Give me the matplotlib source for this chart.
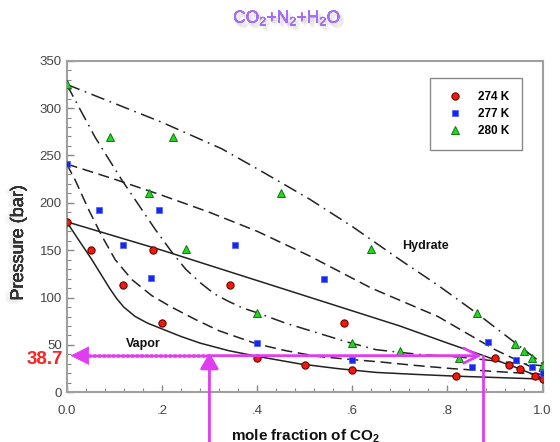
import matplotlib
matplotlib.use("Agg")
import matplotlib.pyplot as plt
import matplotlib.patheffects as pe
from matplotlib.ticker import MultipleLocator, FixedLocator, FixedFormatter

plt.rcParams['font.family'] = ['Liberation Sans', 'DejaVu Sans']
plt.rcParams['mathtext.default'] = 'regular'
plt.rcParams['lines.scale_dashes'] = False

# ---- measured points ----
x274 = [0, 0.052, 0.118, 0.181, 0.2, 0.343, 0.4, 0.5, 0.583, 0.6, 0.819, 0.9, 0.929, 0.952, 0.984, 1.0]
p274 = [180, 150, 113, 150, 73.6, 113, 36, 29, 73.6, 24, 17.5, 36, 29, 24.3, 17.5, 14.4]

x277 = [0, 0.068, 0.118, 0.177, 0.195, 0.353, 0.4, 0.54, 0.6, 0.851, 0.886, 0.945, 0.978, 1.0]
p277 = [241, 192.5, 155.5, 120.4, 192.5, 156, 52.5, 120, 33.8, 26.4, 53, 34, 26.4, 20.5]

x280 = [0, 0.092, 0.172, 0.223, 0.25, 0.4, 0.45, 0.6, 0.639, 0.7, 0.825, 0.863, 0.942, 0.961, 0.977, 1.0]
p280 = [325, 269, 210, 269, 151, 84, 210, 52.5, 151, 43.6, 36.5, 84, 51.4, 43.6, 36, 28.5]

# ---- fitted boundary curves ----
hyd274_x = [0, 0.1, 0.2, 0.3, 0.4, 0.5, 0.6, 0.7, 0.8, 0.88, 0.94, 1.0]
hyd274_p = [180, 165, 150, 134, 118, 102, 86, 70, 52, 38, 27, 15]
vap274_x = [0, 0.025, 0.053, 0.074, 0.09, 0.105, 0.12, 0.144, 0.17, 0.2, 0.24, 0.28, 0.34, 0.4, 0.49, 0.57, 0.65, 0.73, 0.82, 0.91, 1.0]
vap274_p = [180, 161, 140, 123, 110, 99, 90, 80, 73, 67, 59, 52, 44, 38, 30, 25, 21, 19, 17, 15.5, 14]

hyd277_x = [0, 0.1, 0.2, 0.3, 0.4, 0.51, 0.64, 0.78, 0.9, 1.0]
hyd277_p = [241, 225, 208, 190, 170, 144, 110, 80, 45, 21]
vap277_x = [0, 0.018, 0.046, 0.074, 0.102, 0.137, 0.179, 0.22, 0.27, 0.32, 0.4, 0.46, 0.525, 0.59, 0.66, 0.73, 0.81, 0.9, 1.0]
vap277_p = [241, 224, 193, 165, 140, 119, 102, 90, 77, 65, 51, 44, 38, 35, 32, 28.5, 25, 22, 19]

hyd280_x = [0, 0.095, 0.2, 0.326, 0.4, 0.51, 0.6, 0.7, 0.78, 0.86, 0.93, 1.0]
hyd280_p = [325, 306, 285, 257, 236, 204, 175, 140, 113, 84, 57, 30]
vap280_x = [0, 0.06, 0.116, 0.186, 0.221, 0.25, 0.28, 0.31, 0.34, 0.37, 0.4, 0.46, 0.525, 0.59, 0.65, 0.74, 0.83, 0.92, 1.0]
vap280_p = [325, 269, 224, 172, 148, 130, 116, 104, 96, 89, 84, 73, 63, 53, 45, 40, 37, 32, 28]

xticks = [0.0, 0.2, 0.4, 0.6, 0.8, 1.0]
xtick_labels = ['0.0', '.2', '.4', '.6', '.8', '1.0']
yticks = [0, 50, 100, 150, 200, 250, 300, 350]

p_mark = 38.7
x_vap_mark = 0.3
x_hyd_mark = 0.875

fig = plt.figure(figsize=(5.6, 4.42), dpi=100)
ax = fig.add_axes([0.119, 0.1124, 0.85, 0.7503])

lc = '#222222'
ax.plot(hyd274_x, hyd274_p, color=lc, lw=1.1, ls='-')
ax.plot(vap274_x, vap274_p, color=lc, lw=1.1, ls='-')
ax.plot(hyd277_x, hyd277_p, color=lc, lw=1.1, ls=(0, (8, 4)))
ax.plot(vap277_x, vap277_p, color=lc, lw=1.1, ls=(0, (8, 4)))
ax.plot(hyd280_x, hyd280_p, color=lc, lw=1.1, ls=(0, (10, 4, 1.2, 4)))
ax.plot(vap280_x, vap280_p, color=lc, lw=1.1, ls=(0, (10, 4, 1.2, 4)))

h1, = ax.plot(x274, p274, 'o', ms=5.2, mfc='#f01a0a', mec='#6a0000', mew=0.8, ls='none', label='274 K', zorder=5)
h2, = ax.plot(x277, p277, 's', ms=4.4, mfc='#1428f0', mec='#4a5cff', mew=0.5, ls='none', label='277 K', zorder=5)
h3, = ax.plot(x280, p280, '^', ms=5.2, mfc='#28d228', mec='#0a7a0a', mew=0.7, ls='none', label='280 K', zorder=5)

ax.set_xlim(0, 1.0)
ax.set_ylim(0, 350)
ax.xaxis.set_major_locator(FixedLocator(xticks))
ax.xaxis.set_major_formatter(FixedFormatter(xtick_labels))
ax.xaxis.set_minor_locator(MultipleLocator(0.04))
ax.yaxis.set_major_locator(FixedLocator(yticks))
ax.yaxis.set_minor_locator(MultipleLocator(10))
ax.tick_params(which='both', direction='in', color='#888888', labelcolor='#444444', labelsize=9.5)
ax.tick_params(which='major', length=5, width=1)
ax.tick_params(which='minor', length=3, width=0.8)
ax.tick_params(axis='x', pad=9)
for s in ax.spines.values():
    s.set_color('#a0a0a0')
    s.set_linewidth(1.5)

ax.text(0.16, 50.7, 'Vapor', fontsize=9, fontweight='bold', ha='center', va='center', color='#111111')
ax.text(0.704, 154, 'Hydrate', fontsize=9, fontweight='bold', ha='left', va='center', color='#111111')

leg = ax.legend(handles=[h1, h2, h3], loc='upper right',
                bbox_to_anchor=(522 / 560, 1 - 78 / 442), bbox_transform=fig.transFigure,
                frameon=True, fancybox=False, edgecolor='#8a8a8a', framealpha=1,
                prop={'weight': 'bold', 'size': 8.5}, labelspacing=0.42,
                handletextpad=0.9, borderpad=1.1, handlelength=2.0, borderaxespad=0)
leg.get_frame().set_linewidth(1.0)

mag = '#e23cf2'
# dotted arrow to the axis
ax.plot([x_vap_mark, 0.035], [p_mark, p_mark], color=mag, lw=2.6, ls=(0, (1.2, 2.2)),
        solid_capstyle='round', dash_capstyle='round', zorder=6)
ax.annotate('', xy=(0.008, p_mark), xytext=(0.04, p_mark),
            arrowprops=dict(arrowstyle='-|>,head_length=0.7,head_width=0.35', color=mag, lw=0.5,
                            mutation_scale=18, shrinkA=0, shrinkB=0), zorder=6)
# solid horizontal arrow
ax.annotate('', xy=(x_hyd_mark - 0.003, p_mark), xytext=(x_vap_mark, p_mark),
            arrowprops=dict(arrowstyle='->,head_length=0.6,head_width=0.3', color=mag, lw=2,
                            mutation_scale=18, shrinkA=0, shrinkB=0), zorder=6)
# vertical lines
ax.plot([x_hyd_mark, x_hyd_mark], [p_mark, -80], color=mag, lw=2, clip_on=False, zorder=6)
ax.annotate('', xy=(x_vap_mark, p_mark + 3), xytext=(x_vap_mark, -80),
            arrowprops=dict(arrowstyle='-|>,head_length=0.6,head_width=0.35', color=mag, lw=2,
                            mutation_scale=16, shrinkA=0, shrinkB=0),
            annotation_clip=False, zorder=6)

fig.text(63 / 560, 1 - 360 / 442, '38.7', color='#ff2020', fontsize=13.5, fontweight='bold',
         ha='right', va='center')

def blur_shadow(color='#555555', offset=(2.0, -2.5), alpha=0.06):
    effs = []
    for dx, dy in [(-1, 0), (1, 0), (0, -1), (0, 1), (0, 0), (1, -1), (-1, 1)]:
        effs.append(pe.withSimplePatchShadow(offset=(offset[0] + dx * 1.3, offset[1] + dy * 1.3),
                                             shadow_rgbFace=color, alpha=alpha))
    effs.append(pe.Normal())
    return effs

fig.text(0.513, 1 - 18 / 442, 'CO$_2$+N$_2$+H$_2$O', color='#a46ef5', fontsize=12.5,
         ha='center', va='center', path_effects=blur_shadow())
fig.text(0.033, 1 - 243 / 442, 'Pressure (bar)', rotation=90, color='#333333', fontsize=13,
         ha='center', va='center', path_effects=blur_shadow(color='#777777', offset=(-2.5, -2.0), alpha=0.035))
fig.text(0.545, 0.012, 'mole fraction of CO$_2$', color='#111111', fontsize=11, fontweight='bold',
         ha='center', va='center')

fig.savefig('out.png', dpi=100)
